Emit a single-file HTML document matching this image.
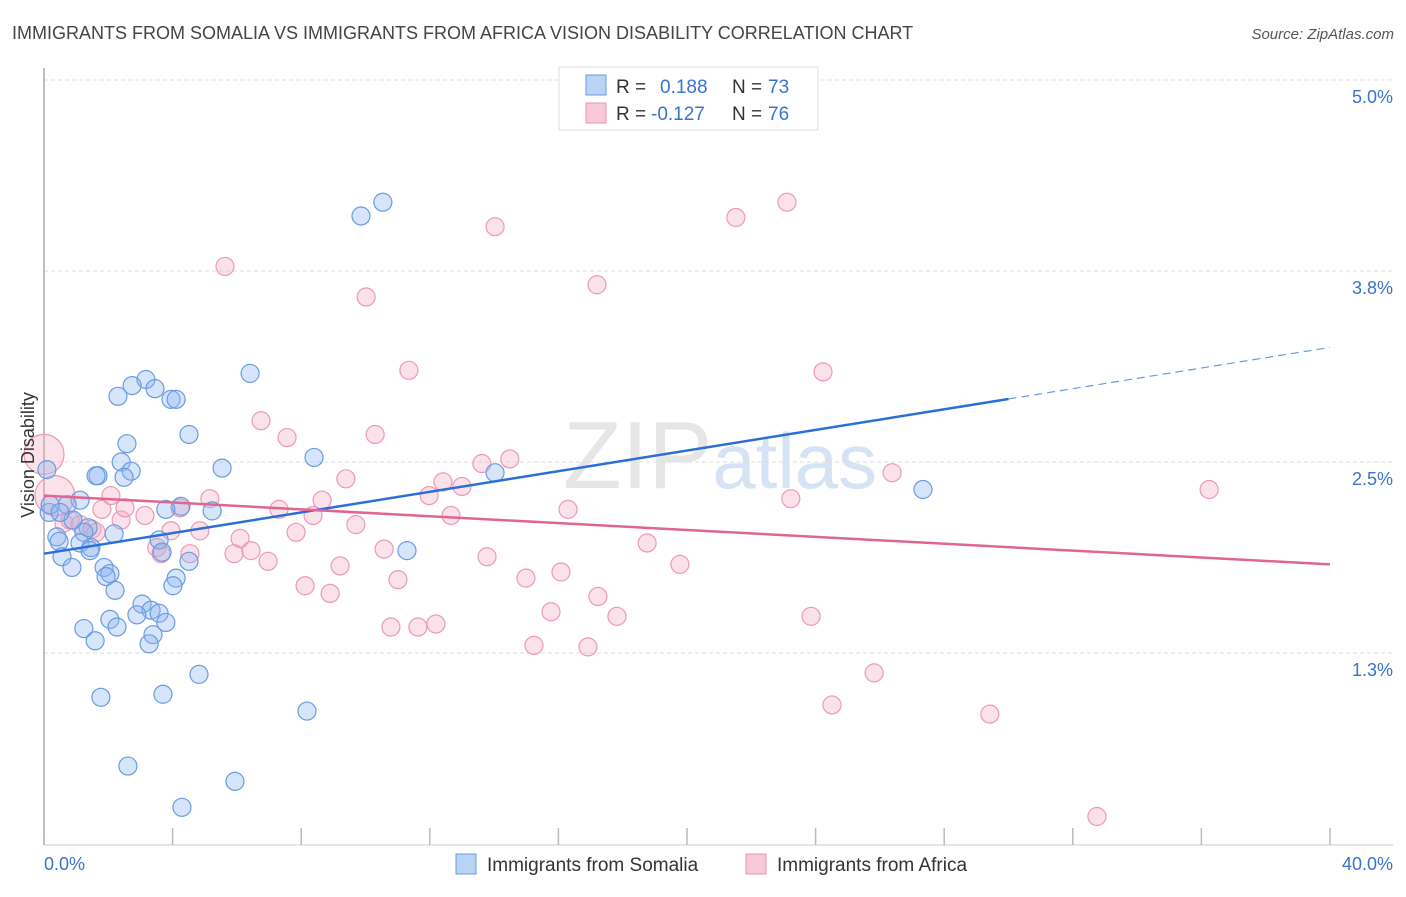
<!DOCTYPE html>
<html><head><meta charset="utf-8"><style>
body{margin:0;background:#fff;font-family:"Liberation Sans",sans-serif;}
svg text{font-family:"Liberation Sans",sans-serif;}
</style></head><body>
<svg id="chart" width="1406" height="892" xmlns="http://www.w3.org/2000/svg">
<text x="12" y="39" font-size="18" fill="#444">IMMIGRANTS FROM SOMALIA VS IMMIGRANTS FROM AFRICA VISION DISABILITY CORRELATION CHART</text>
<text x="1394" y="39" font-size="15" fill="#555" text-anchor="end" font-style="italic">Source: ZipAtlas.com</text>
<text x="720" y="488" font-size="96" text-anchor="middle" fill="#e6e6e6" font-family="Liberation Serif">ZIP<tspan fill="#d6e3f5" font-family="Liberation Sans" font-size="78">atlas</tspan></text>
<g id="grid"></g>
<g id="axes"></g>
<g id="marks"></g>
<text transform="translate(34,455) rotate(-90)" font-size="18" fill="#333" text-anchor="middle">Vision Disability</text>
<g>
<rect x="559" y="67" width="259" height="63" fill="#fff" stroke="#ddd"/>
<rect x="586" y="75" width="20" height="20" fill="#b9d3f5" stroke="#6a9be0"/>
<rect x="586" y="103" width="20" height="20" fill="#f9c9d7" stroke="#e895b0"/>
<text x="616" y="93" font-size="19" fill="#333">R =</text><text x="660" y="93" font-size="19" fill="#3a72d0">0.188</text>
<text x="732" y="93" font-size="19" fill="#333">N =</text><text x="768" y="93" font-size="19" fill="#3a72d0">73</text>
<text x="616" y="120" font-size="19" fill="#333">R =</text><text x="651" y="120" font-size="19" fill="#3a72d0">-0.127</text>
<text x="732" y="120" font-size="19" fill="#333">N =</text><text x="768" y="120" font-size="19" fill="#3a72d0">76</text>
</g>
<g>
<rect x="456" y="854" width="20" height="20" fill="#b9d3f5" stroke="#6a9be0"/>
<text x="487" y="871" font-size="19" fill="#333">Immigrants from Somalia</text>
<rect x="746" y="854" width="20" height="20" fill="#f9c9d7" stroke="#e895b0"/>
<text x="777" y="871" font-size="19" fill="#333">Immigrants from Africa</text>
</g>
</svg>
<script>
const yTicks = [5.0, 3.75, 2.5, 1.25];
const yTickLabels = ["5.0%", "3.8%", "2.5%", "1.3%"];
const xTicks = [0,4,8,12,16,20,24,28,32,36,40];
const blueX = [9.86,10.54,6.41,3.17,2.74,3.45,2.30,3.95,4.11,4.51,2.58,2.40,2.71,5.54,1.68,1.62,2.49,8.40,14.03,27.34,0.09,1.12,0.72,4.26,3.79,5.23,0.16,0.90,1.37,0.40,1.24,0.47,1.12,1.46,2.18,3.58,3.67,11.29,0.56,1.43,4.51,0.87,1.87,2.05,1.93,4.11,4.01,2.21,3.05,3.33,3.58,2.89,2.05,3.79,1.24,2.27,3.39,1.59,3.27,4.82,1.77,3.70,8.18,2.61,5.94,4.29,0.19,0.50];
const blueY = [4.11,4.20,3.08,3.04,3.00,2.98,2.93,2.91,2.91,2.68,2.62,2.50,2.44,2.46,2.41,2.41,2.40,2.53,2.43,2.32,2.45,2.25,2.22,2.21,2.19,2.18,2.17,2.12,2.07,2.01,2.04,1.98,1.97,1.94,2.03,1.99,1.91,1.92,1.88,1.92,1.85,1.81,1.81,1.77,1.75,1.74,1.69,1.66,1.57,1.53,1.51,1.50,1.47,1.45,1.41,1.42,1.37,1.33,1.31,1.11,0.96,0.98,0.87,0.51,0.41,0.24,2.22,2.17];
const pinkX = [23.11,21.52,14.03,5.63,10.02,17.20,24.23,11.35,6.75,7.56,10.30,9.39,13.62,14.49,26.38,36.24,12.41,13.00,11.98,8.65,5.16,2.08,0.34,0.0,4.23,16.30,23.23,7.31,8.37,1.80,12.66,2.40,3.14,0.62,1.12,1.49,1.62,4.85,3.95,9.70,7.84,6.10,3.51,6.44,10.58,4.54,5.91,3.64,13.78,18.76,6.97,9.21,19.78,14.99,16.08,11.01,8.12,8.90,17.23,15.77,17.82,23.86,12.19,10.79,11.63,15.24,16.92,25.82,24.51,29.42,32.75,2.52,0.81];
const pinkY = [4.20,4.10,4.04,3.78,3.58,3.66,3.09,3.10,2.77,2.66,2.68,2.39,2.49,2.52,2.43,2.32,2.37,2.34,2.28,2.25,2.26,2.28,2.28,2.55,2.20,2.19,2.26,2.19,2.15,2.19,2.15,2.12,2.15,2.10,2.09,2.06,2.04,2.05,2.05,2.09,2.04,2.00,1.94,1.92,1.93,1.90,1.90,1.90,1.88,1.97,1.85,1.82,1.83,1.74,1.78,1.73,1.69,1.64,1.62,1.52,1.49,1.49,1.44,1.42,1.42,1.30,1.29,1.12,0.91,0.85,0.18,2.20,2.12];
const pinkBig = [22, 23];
const blueTrend = [1.90, 3.25];
const pinkTrend = [2.28, 1.83];
const blueSolidEnd = 30;

const NS = "http://www.w3.org/2000/svg";
function xs(v){ return 44 + v * (1330 - 44) / 40; }
function ys(v){ return 844 - v * 152.8; }
function mk(tag, attrs, parent){ const e = document.createElementNS(NS, tag); for (const k in attrs) e.setAttribute(k, attrs[k]); parent.appendChild(e); return e; }
const grid = document.getElementById('grid'), axes = document.getElementById('axes'), marks = document.getElementById('marks');
yTicks.forEach((t, i) => {
  const l = mk('line', {x1:44, x2:1393, y1:ys(t), y2:ys(t), stroke:'#ddd', 'stroke-dasharray':'4,3'}, grid);
  
  
  const tx = mk('text', {x:1393, y:ys(t)+23, 'font-size':18, fill:'#3a72d0', 'text-anchor':'end'}, axes);
  tx.textContent = yTickLabels[i];
  
  
});
const ax = mk('line', {x1:44, x2:44, y1:68, y2:845, stroke:'#aaa', 'stroke-width':1.5}, axes);


const bx = mk('line', {x1:44, x2:1393, y1:845, y2:845, stroke:'#ccc'}, axes);


xTicks.forEach(t => {
  const l = mk('line', {x1:xs(t), x2:xs(t), y1:828, y2:845, stroke:'#bbb', 'stroke-width':1.5}, axes);
  
  
});
const xl0 = mk('text', {x:44, y:870, 'font-size':18, fill:'#3a72d0'}, axes); xl0.textContent = '0.0%';


const xl1 = mk('text', {x:1393, y:870, 'font-size':18, fill:'#3a72d0', 'text-anchor':'end'}, axes); xl1.textContent = '40.0%';



pinkX.forEach((x, i) => {
  const c = mk('circle', {cx:xs(x), cy:ys(pinkY[i]), r: pinkBig.includes(i) ? 20 : 9, fill:'rgba(244,170,195,0.35)', stroke:'#eb9ab5', 'stroke-width':1.2}, marks);
  
  
});
blueX.forEach((x, i) => {
  const c = mk('circle', {cx:xs(x), cy:ys(blueY[i]), r:9, fill:'rgba(140,180,240,0.35)', stroke:'#6a9be0', 'stroke-width':1.2}, marks);
  
  
});
function trendY(tr, x){ return tr[0] + (tr[1] - tr[0]) * x / 40; }
const bt = mk('line', {x1:xs(0), y1:ys(trendY(blueTrend,0)), x2:xs(blueSolidEnd), y2:ys(trendY(blueTrend,blueSolidEnd)), stroke:'#2a6fd6', 'stroke-width':2.5}, marks);


const btd = mk('line', {x1:xs(blueSolidEnd), y1:ys(trendY(blueTrend,blueSolidEnd)), x2:xs(40), y2:ys(trendY(blueTrend,40)), stroke:'#6a9be0', 'stroke-width':1.2, 'stroke-dasharray':'8,5'}, marks);


const pt = mk('line', {x1:xs(0), y1:ys(pinkTrend[0]), x2:xs(40), y2:ys(pinkTrend[1]), stroke:'#e06690', 'stroke-width':2.5}, marks);


</script>
</body></html>
